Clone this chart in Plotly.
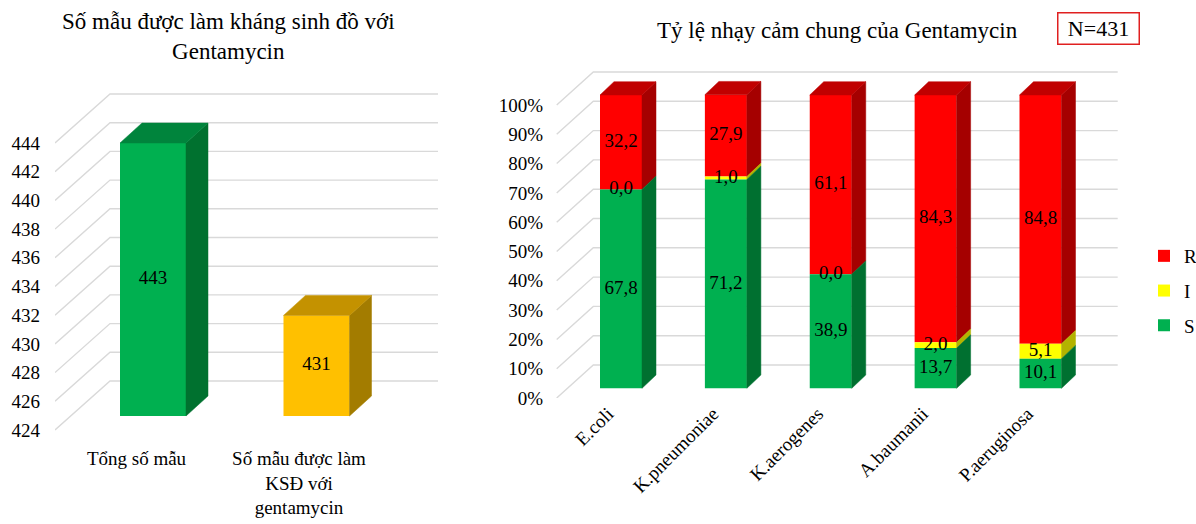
import plotly.graph_objects as go

# ---------------- data ----------------
LEFT_CATEGORIES = ["Tổng số mẫu", "Số mẫu được làm<br>KSĐ với<br>gentamycin"]
LEFT_VALUES = [443, 431]
LEFT_Y_TICKS = [424, 426, 428, 430, 432, 434, 436, 438, 440, 442, 444]
LEFT_AXIS_MIN = 424

RIGHT_CATEGORIES = ["E.coli", "K.pneumoniae", "K.aerogenes", "A.baumanii", "P.aeruginosa"]
S_VALUES = [67.8, 71.2, 38.9, 13.7, 10.1]
I_VALUES = [0.0, 1.0, 0.0, 2.0, 5.1]
R_VALUES = [32.2, 27.9, 61.1, 84.3, 84.8]
RIGHT_Y_TICKS = [0, 10, 20, 30, 40, 50, 60, 70, 80, 90, 100]

# ---------------- layout geometry (pixels) ----------------
W, H = 1196, 524
FONT = "'Liberation Serif', 'Times New Roman', Times, serif"
GRID = "#d9d9d9"


def lin(p, p0, v0, p1, v1):
    return v0 + (p - p0) * (v1 - v0) / (p1 - p0)


def axis_range(dom, p0, v0, p1, v1):
    return [lin(dom[0], p0, v0, p1, v1), lin(dom[1], p0, v0, p1, v1)]


# left panel
L_DX = (55, 440)
L_DY = (80, 445)  # top, bottom pixel
L_FX = (136.5, 0, 299, 1)          # front-plane x calibration
L_FY = (430, 424, 143, 444)        # front-plane y calibration
L_BX = (153, 0, 316.5, 1)          # bar-plane x calibration
L_BY = (416, 424, 143, 443)        # bar-plane y calibration
L_GRID_PX = (55, 110, 438)
L_BACK_DY = 49
L_DEPTH = (22, 20)
L_BAR_W_PX = 66

# right panel
R_DX = (545, 1125)
R_DY = (60, 398)
R_FX = (608, 0, 1027.5, 4)         # front-plane x (category labels)
R_BX = (621, 0, 1040.5, 4)         # bar-plane x
R_FY = (398, 0, 105, 100)
R_BY = (388.3, 0, 95, 100)
R_GRID_PX = (556.7, 593.3, 1117.7)
R_BACK_DY = 33
R_DEPTH = (14, 13.3)
R_BAR_W_PX = 42

lfx = axis_range(L_DX, *L_FX)
lfy = axis_range((L_DY[1], L_DY[0]), *L_FY)
lbx = axis_range(L_DX, *L_BX)
lby = axis_range((L_DY[1], L_DY[0]), *L_BY)
rfx = axis_range(R_DX, *R_FX)
rbx = axis_range(R_DX, *R_BX)
rfy = axis_range((R_DY[1], R_DY[0]), *R_FY)
rby = axis_range((R_DY[1], R_DY[0]), *R_BY)


def px_per_unit(cal):
    return abs(cal[2] - cal[0]) / abs(cal[3] - cal[1])


fig = go.Figure()


def grid_trace(ticks, gpx, back_dy, fxcal, fycal, xa, ya):
    xs, ys = [], []
    dyu = back_dy / px_per_unit(fycal)
    x0 = lin(gpx[0], *fxcal)
    x1 = lin(gpx[1], *fxcal)
    x2 = lin(gpx[2], *fxcal)
    for t in ticks:
        xs += [x0, x1, x2, None]
        ys += [t, t + dyu, t + dyu, None]
    return go.Scatter(x=xs, y=ys, mode="lines", line=dict(color=GRID, width=1.4),
                      xaxis=xa, yaxis=ya, showlegend=False, hoverinfo="skip")


def add_poly(store, color, pts):
    xs, ys = store.setdefault(color, ([], []))
    for x, y in pts:
        xs.append(x)
        ys.append(y)
    xs.append(None)
    ys.append(None)


def side(xr, y0, y1, dx, dy):
    return [(xr, y0), (xr + dx, y0 + dy), (xr + dx, y1 + dy), (xr, y1), (xr, y0)]


def top(xl, xr, y, dx, dy):
    return [(xl, y), (xl + dx, y + dy), (xr + dx, y + dy), (xr, y), (xl, y)]


def poly_traces(store, xa, ya):
    out = []
    for color, (xs, ys) in store.items():
        out.append(go.Scatter(x=xs, y=ys, mode="lines", fill="toself", fillcolor=color,
                              line=dict(color=color, width=0.5), xaxis=xa, yaxis=ya,
                              showlegend=False, hoverinfo="skip"))
    return out


# ---------------- left panel ----------------
fig.add_trace(grid_trace(LEFT_Y_TICKS, L_GRID_PX, L_BACK_DY, L_FX, L_FY, "x", "y"))

l_bw = L_BAR_W_PX / px_per_unit(L_BX)
l_dx = L_DEPTH[0] / px_per_unit(L_BX)
l_dy = L_DEPTH[1] / px_per_unit(L_BY)
left_front = ["#00B050", "#FFC000"]
left_top = ["#00843C", "#C49200"]
left_side = ["#00712F", "#A37C00"]
lx = list(range(len(LEFT_VALUES)))
fig.add_trace(go.Bar(x=lx, y=[v - LEFT_AXIS_MIN for v in LEFT_VALUES], base=LEFT_AXIS_MIN,
                     width=l_bw, marker=dict(color=left_front, line=dict(width=0)),
                     xaxis="x2", yaxis="y2", showlegend=False, opacity=1,
                     hovertext=[str(v) for v in LEFT_VALUES], hoverinfo="text"))
store = {}
for i, v in enumerate(LEFT_VALUES):
    xl, xr = i - l_bw / 2, i + l_bw / 2
    add_poly(store, left_side[i], side(xr, LEFT_AXIS_MIN, v, l_dx, l_dy))
    add_poly(store, left_top[i], top(xl, xr, v, l_dx, l_dy))
for t in poly_traces(store, "x2", "y2"):
    fig.add_trace(t)
fig.add_trace(go.Scatter(x=lx, y=[(LEFT_AXIS_MIN + v) / 2 for v in LEFT_VALUES],
                         text=[str(v) for v in LEFT_VALUES], mode="text",
                         textfont=dict(family=FONT, size=19, color="black"),
                         xaxis="x2", yaxis="y2", showlegend=False, hoverinfo="skip"))

# ---------------- right panel ----------------
fig.add_trace(grid_trace(RIGHT_Y_TICKS, R_GRID_PX, R_BACK_DY, R_FX, R_FY, "x3", "y3"))

r_bw = R_BAR_W_PX / px_per_unit(R_BX)
r_dx = R_DEPTH[0] / px_per_unit(R_BX)
r_dy = R_DEPTH[1] / px_per_unit(R_BY)
rx = list(range(len(RIGHT_CATEGORIES)))
series = [
    ("R", R_VALUES, "#FF0000", "#A50000", "#C00000"),
    ("I", I_VALUES, "#FFFF00", "#B3B300", None),
    ("S", S_VALUES, "#00B050", "#007030", None),
]
bases = {
    "S": [0.0] * len(rx),
    "I": [s for s in S_VALUES],
    "R": [s + i for s, i in zip(S_VALUES, I_VALUES)],
}
store = {}
label_x, label_y, label_t = [], [], []
for name, vals, front, sidec, topc in series:
    fig.add_trace(go.Bar(x=rx, y=vals, base=bases[name], width=r_bw, name=name,
                         marker=dict(color=front, line=dict(width=0)), opacity=1,
                         xaxis="x4", yaxis="y4", legendgroup=name))
    for i, v in enumerate(vals):
        b = bases[name][i]
        xl, xr = i - r_bw / 2, i + r_bw / 2
        if v > 0:
            add_poly(store, sidec, side(xr, b, b + v, r_dx, r_dy))
        if topc:
            add_poly(store, topc, top(xl, xr, b + v, r_dx, r_dy))
        label_x.append(i)
        label_y.append(b + v / 2)
        label_t.append(f"{v:.1f}".replace(".", ","))
for t in poly_traces(store, "x4", "y4"):
    fig.add_trace(t)
fig.add_trace(go.Scatter(x=label_x, y=label_y, text=label_t, mode="text",
                         textfont=dict(family=FONT, size=19, color="black"),
                         xaxis="x4", yaxis="y4", showlegend=False, hoverinfo="skip"))

# ---------------- layout ----------------
tickfont = dict(family=FONT, size=19, color="black")
hidden = dict(visible=False, showgrid=False, zeroline=False, fixedrange=True, automargin=False)
common = dict(showgrid=False, zeroline=False, showline=False, ticks="", tickfont=tickfont,
              fixedrange=True, automargin=False)

fig.update_layout(
    width=W, height=H,
    margin=dict(l=0, r=0, t=0, b=0, autoexpand=False),
    paper_bgcolor="white", plot_bgcolor="white",
    barmode="overlay",
    font=dict(family=FONT, size=19, color="black"),
    xaxis=dict(domain=[L_DX[0] / W, L_DX[1] / W], range=lfx, tickvals=lx,
               ticktext=LEFT_CATEGORIES, anchor="y", ticklabelstandoff=0, **common),
    yaxis=dict(domain=[1 - L_DY[1] / H, 1 - L_DY[0] / H], range=lfy, tickvals=LEFT_Y_TICKS,
               anchor="x", ticklabelstandoff=14, **common),
    xaxis2=dict(overlaying="x", range=lbx, **hidden),
    yaxis2=dict(overlaying="y", range=lby, anchor="x2", **hidden),
    xaxis3=dict(domain=[R_DX[0] / W, R_DX[1] / W], range=rfx, tickvals=rx,
                ticktext=RIGHT_CATEGORIES, tickangle=-45, anchor="y3", ticklabelstandoff=0,
                **common),
    yaxis3=dict(domain=[1 - R_DY[1] / H, 1 - R_DY[0] / H], range=rfy, tickvals=RIGHT_Y_TICKS,
                ticktext=[f"{t}%" for t in RIGHT_Y_TICKS], anchor="x3", ticklabelstandoff=1,
                **common),
    xaxis4=dict(overlaying="x3", range=rbx, anchor="y4", **hidden),
    yaxis4=dict(overlaying="y3", range=rby, anchor="x4", **hidden),
    legend=dict(x=1144 / W, y=1 - 291 / H, xanchor="left", yanchor="middle",
                font=dict(family=FONT, size=19, color="black"), traceorder="grouped",
                tracegroupgap=7, itemwidth=30, bgcolor="rgba(0,0,0,0)"),
    annotations=[
        dict(text="Số mẫu được làm kháng sinh đồ với<br>Gentamycin", x=228 / W, y=1 - 36 / H,
             xref="paper", yref="paper", showarrow=False, xanchor="center", yanchor="middle",
             font=dict(family=FONT, size=23, color="black")),
        dict(text="Tỷ lệ nhạy cảm chung của Gentamycin", x=837 / W, y=1 - 30 / H,
             xref="paper", yref="paper", showarrow=False, xanchor="center", yanchor="middle",
             font=dict(family=FONT, size=23, color="black")),
        dict(text="N=431", x=1098 / W, y=1 - 29 / H, xref="paper", yref="paper",
             showarrow=False, xanchor="center", yanchor="middle", width=76, height=26,
             bordercolor="#E02020", borderwidth=1.5, borderpad=2,
             font=dict(family=FONT, size=22, color="black")),
    ],
)

fig.write_html("out.html", config={"displayModeBar": False},
               post_script="document.body.style.margin='0';")
